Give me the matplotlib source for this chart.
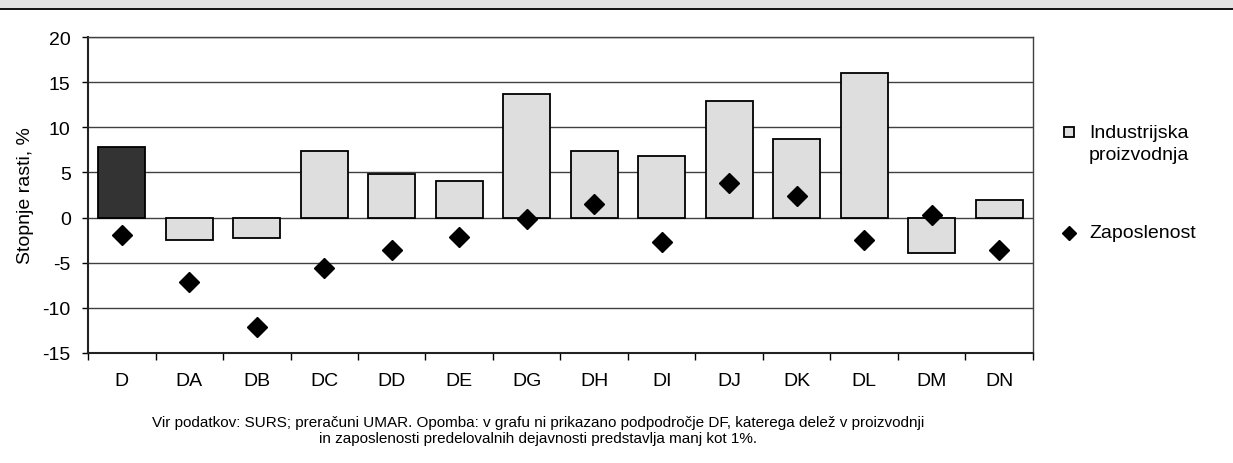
import numpy as np
import matplotlib
matplotlib.use("Agg")
import matplotlib.pyplot as plt
from matplotlib.lines import Line2D
from matplotlib.patches import Rectangle

plt.rcParams["font.family"] = ["Liberation Sans", "DejaVu Sans"]

# data
categories = ["D", "DA", "DB", "DC", "DD", "DE", "DG", "DH", "DI", "DJ", "DK", "DL", "DM", "DN"]
industrijska = [7.8, -2.45, -2.3, 7.4, 4.85, 4.0, 13.7, 7.4, 6.8, 12.9, 8.7, 16.0, -3.95, 1.9]
zaposlenost = [-1.9, -7.1, -12.1, -5.6, -3.6, -2.1, -0.15, 1.5, -2.7, 3.85, 2.4, -2.5, 0.3, -3.55]
y_ticks = [-15, -10, -5, 0, 5, 10, 15, 20]

W, H = 1233, 464
fig = plt.figure(figsize=(W / 100, H / 100), dpi=100)


def fx(px):
    return px / W


def fy(py):
    return 1 - py / H


# grey header strip with separator line (cropped title area)
fig.patches.append(Rectangle((0, fy(9)), 1, 9 / H, transform=fig.transFigure,
                             facecolor="#e4e4e4", edgecolor="none"))
fig.add_artist(Line2D([0, 1], [fy(9.5), fy(9.5)], transform=fig.transFigure,
                      color="black", lw=1.3))

ax = fig.add_axes([fx(88), fy(354), (1033 - 88) / W, (354 - 38) / H])

x = np.arange(len(categories))
colors = ["#333333"] + ["#dedede"] * (len(categories) - 1)
ax.bar(x, industrijska, width=0.69, color=colors, edgecolor="black", linewidth=1.3, zorder=2)
ax.plot(x, zaposlenost, linestyle="none", marker="D", markersize=10.5,
        color="black", zorder=3)

ax.set_xlim(-0.5, len(categories) - 0.5)
ax.set_ylim(-15, 20)
ax.set_yticks(y_ticks)
ax.set_yticklabels([str(v) for v in y_ticks], fontsize=14)
ax.set_xticks(x)
ax.set_xticklabels(categories, fontsize=14)
ax.set_xticks(np.arange(len(categories) + 1) - 0.5, minor=True)
ax.tick_params(axis="x", which="major", length=0, pad=14)
ax.tick_params(axis="x", which="minor", length=5, direction="out", width=1)
ax.tick_params(axis="y", length=4.5, direction="out", width=1, pad=8)

ax.grid(axis="y", color="#404040", linewidth=1, zorder=0)
ax.set_axisbelow(True)
for side in ["left", "bottom"]:
    ax.spines[side].set_linewidth(1.5)
    ax.spines[side].set_color("#222222")
for side in ["top", "right"]:
    ax.spines[side].set_linewidth(1)
    ax.spines[side].set_color("#404040")

ax.set_ylabel("Stopnje rasti, %", fontsize=14, labelpad=6)

# legend drawn by hand: marker sits beside the first text line
fig.add_artist(Line2D([fx(1069)], [fy(133)], transform=fig.transFigure, linestyle="none",
                      marker="s", markersize=6.5, markerfacecolor="#dedede",
                      markeredgecolor="black", markeredgewidth=1.3))
fig.text(fx(1089), fy(133), "Industrijska", fontsize=14, va="center", ha="left")
fig.text(fx(1089), fy(155), "proizvodnja", fontsize=14, va="center", ha="left")
fig.add_artist(Line2D([fx(1069)], [fy(234)], transform=fig.transFigure, linestyle="none",
                      marker="D", markersize=7, color="black"))
fig.text(fx(1089), fy(234), "Zaposlenost", fontsize=14, va="center", ha="left")

src = ("Vir podatkov: SURS; preračuni UMAR. Opomba: v grafu ni prikazano podpodročje DF, katerega delež v proizvodnji\n"
       "in zaposlenosti predelovalnih dejavnosti predstavlja manj kot 1%.")
fig.text(fx(538), fy(431), src, ha="center", va="center", fontsize=11,
         linespacing=1.25)

fig.savefig("out.png", dpi=100)
